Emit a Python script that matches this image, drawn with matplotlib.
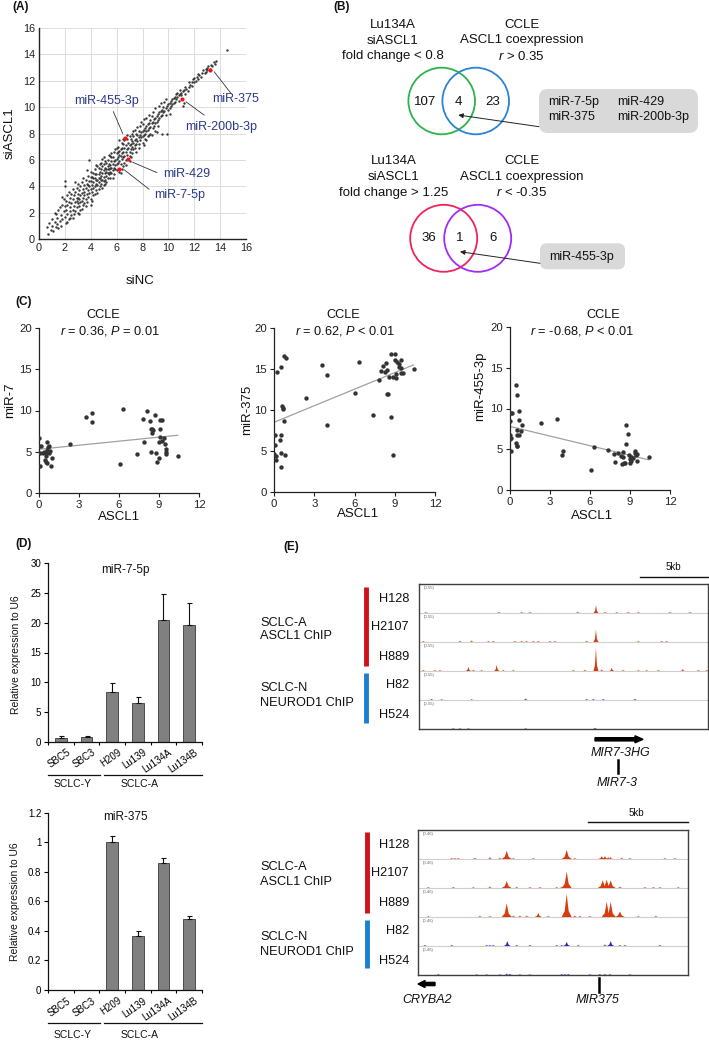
import matplotlib
matplotlib.use('Agg')
import matplotlib.pyplot as plt
from matplotlib.patches import Circle, FancyBboxPatch, FancyArrow

plt.rcParams['font.family'] = ['Liberation Sans', 'DejaVu Sans']
plt.rcParams['mathtext.fontset'] = 'custom'
plt.rcParams['mathtext.rm'] = 'Liberation Sans'
plt.rcParams['mathtext.it'] = 'Liberation Sans:italic'

# ---------------- DATA ----------------
# (A) miRNA expression, siNC vs siASCL1 (log2)
a_points = [
 (0.6,0.9),(0.7,0.4),(0.8,1.2),(0.9,0.7),(1.0,1.5),(1.0,1.0),(1.1,0.6),(1.2,1.3),(1.2,2.0),(1.3,0.9),(1.4,1.6),(1.4,1.1),(1.5,2.2),(1.5,0.8),(1.3,1.9),
 (1.6,1.4),(1.6,2.4),(1.7,1.8),(1.7,1.0),(1.8,2.6),(1.8,1.5),(1.9,2.1),(1.9,3.0),(2.0,1.7),(2.0,2.5),(2.0,4.4),(2.0,4.0),(2.1,1.2),(2.1,2.9),(2.1,2.2),
 (2.2,1.9),(2.2,3.3),(2.2,2.6),(2.3,1.5),(2.3,2.8),(2.3,3.6),(2.4,2.1),(2.4,2.4),(2.4,3.1),(2.5,1.8),(2.5,2.7),(2.5,3.4),(1.8,3.2),(2.2,1.3),(2.4,1.6),
 (2.6,2.2),(2.6,3.0),(2.6,3.8),(2.7,2.5),(2.7,1.9),(2.7,3.3),(2.8,2.8),(2.8,3.6),(2.8,2.1),(2.9,3.1),(2.9,2.4),(2.9,3.9),(3.0,2.7),(3.0,3.4),(3.0,2.0),
 (3.0,4.2),(3.1,3.0),(3.1,2.5),(3.1,3.7),(3.2,2.8),(3.2,3.3),(3.2,4.0),(3.2,2.2),(3.3,3.5),(3.3,2.9),(3.3,4.3),(3.4,3.1),(3.4,2.6),(3.4,3.8),(3.5,3.3),
 (3.5,4.1),(3.5,2.7),(2.6,1.6),(2.8,4.3),(3.1,1.9),(3.4,4.6),(3.0,3.1),(2.9,2.9),(3.3,2.3),(3.5,3.6),
 (3.6,3.0),(3.6,3.9),(3.6,4.5),(3.7,3.4),(3.7,2.8),(3.7,4.2),(3.8,3.7),(3.8,4.8),(3.8,3.2),(3.9,4.0),(3.9,3.5),(3.9,6.0),(4.0,4.4),(4.0,3.8),(4.0,3.0),
 (4.0,5.1),(4.1,4.1),(4.1,3.6),(4.1,4.7),(4.2,4.3),(4.2,3.9),(4.2,5.0),(4.2,3.3),(4.3,4.6),(4.3,4.0),(4.3,5.3),(4.4,4.2),(4.4,3.7),(4.4,4.9),(4.5,4.5),
 (4.5,4.1),(4.5,5.5),(4.5,3.5),(3.6,2.5),(3.8,4.1),(4.0,4.7),(4.1,2.9),(4.3,3.4),(4.4,5.6),(3.7,5.2),(3.9,4.4),(4.2,4.6),(4.0,2.6),(4.4,4.5),(4.3,4.9),
 (4.6,4.3),(4.6,4.9),(4.6,5.4),(4.6,3.8),(4.7,4.6),(4.7,5.1),(4.7,4.0),(4.8,4.8),(4.8,5.3),(4.8,4.2),(4.8,5.8),(4.9,5.0),(4.9,4.5),(4.9,5.5),(4.9,3.9),
 (5.0,5.2),(5.0,4.7),(5.0,5.7),(5.0,4.1),(5.0,6.2),(5.1,5.0),(5.1,5.4),(5.1,4.5),(5.2,5.3),(5.2,4.8),(5.2,5.8),(5.2,4.3),(5.3,5.5),(5.3,5.0),(5.3,6.0),
 (5.3,4.6),(5.4,5.3),(5.4,5.7),(5.4,4.9),(5.5,5.6),(5.5,5.1),(5.5,6.3),(5.5,4.6),(4.7,5.7),(4.9,6.1),(5.1,5.9),(5.4,6.4),(4.8,4.5),(5.0,4.4),(5.2,5.1),
 (5.3,5.3),(5.5,5.4),(5.1,4.2),(4.6,4.6),(5.4,5.0),
 (5.6,5.4),(5.6,5.9),(5.6,5.0),(5.6,6.5),(5.7,5.7),(5.7,5.2),(5.7,6.2),(5.8,5.9),(5.8,5.4),(5.8,6.6),(5.8,4.9),(5.9,6.0),(5.9,5.6),(5.9,6.8),(6.0,6.1),
 (6.0,5.7),(6.0,6.5),(6.0,5.2),(6.1,6.2),(6.1,5.8),(6.1,7.0),(6.2,6.4),(6.2,5.9),(6.2,5.1),(6.3,6.3),(6.3,6.8),(6.3,5.7),(6.4,6.5),(6.4,6.1),(6.4,7.3),
 (6.5,6.6),(6.5,6.2),(6.5,5.5),(6.5,7.2),(5.7,4.6),(6.0,6.9),(6.3,5.0),(6.4,5.3),(6.1,6.6),(5.9,5.3),(6.2,7.5),(5.6,6.2),(6.4,6.9),(6.2,6.7),(6.5,7.6),
 (6.6,6.3),(6.6,6.9),(6.6,7.5),(6.7,6.6),(6.7,6.0),(6.7,7.1),(6.8,6.8),(6.8,6.4),(6.8,7.6),(6.9,6.9),(6.9,7.3),(6.9,6.1),(7.0,7.1),(7.0,6.6),(7.0,7.8),
 (7.1,7.2),(7.1,6.8),(7.1,6.2),(7.2,7.4),(7.2,7.0),(7.2,8.0),(7.3,7.3),(7.3,6.8),(7.3,7.8),(7.4,7.5),(7.4,7.1),(7.4,8.3),(7.5,7.6),(7.5,7.2),(7.5,6.6),
 (6.7,5.6),(7.0,6.3),(7.2,6.5),(7.4,6.9),(6.8,7.9),(7.1,7.6),(7.3,8.2),(6.6,5.8),(7.0,5.9),(7.5,8.0),
 (7.6,7.4),(7.6,7.9),(7.6,8.5),(7.7,7.7),(7.7,7.2),(7.7,8.2),(7.8,7.9),(7.8,7.5),(7.8,8.6),(7.9,8.1),(7.9,7.7),(7.9,8.9),(8.0,8.2),(8.0,7.8),(8.0,8.7),
 (8.0,7.3),(8.1,8.3),(8.1,7.9),(8.1,9.1),(8.2,8.4),(8.2,8.0),(8.2,7.6),(8.3,8.6),(8.3,8.2),(8.3,9.2),(8.4,8.7),(8.4,8.3),(8.4,7.8),(8.5,8.8),(8.5,8.4),
 (8.5,9.4),(7.7,6.9),(8.1,7.1),(8.3,7.5),(8.5,7.9),
 (8.6,8.5),(8.6,9.0),(8.6,8.0),(8.7,8.8),(8.7,9.3),(8.7,7.9),(8.8,8.9),(8.8,8.4),(8.8,9.6),(8.9,9.1),(8.9,8.6),(9.0,9.2),(9.0,8.8),(9.0,9.9),(9.1,9.3),
 (9.1,8.9),(9.1,8.1),(9.2,9.5),(9.2,9.0),(9.3,9.6),(9.3,9.2),(9.3,10.1),(9.4,9.7),(9.4,9.3),(9.5,9.8),(9.5,9.4),(9.5,8.0),(9.0,8.2),(9.2,8.6),(9.4,10.3),
 (9.6,9.6),(9.6,10.0),(9.7,9.7),(9.7,10.4),(9.8,9.9),(9.8,9.4),(9.9,10.1),(9.9,8.0),(10.0,10.2),(10.0,9.8),(10.1,10.3),(10.1,9.9),(10.2,10.5),(10.2,10.1),
 (10.3,10.6),(10.3,10.2),(10.4,10.7),(10.4,10.3),(10.5,10.8),(10.5,10.4),(9.8,10.6),(10.1,9.5),
 (10.6,10.6),(10.6,11.0),(10.7,10.8),(10.7,11.1),(10.8,10.9),(10.8,10.5),(10.9,11.0),(10.9,11.3),(11.0,11.1),(11.0,10.9),(11.1,11.2),(11.2,10.3),
 (11.2,11.3),(11.3,11.0),(11.3,11.5),(11.4,11.4),(11.5,11.2),(11.1,10.1),
 (11.6,11.5),(11.6,11.9),(11.7,11.7),(11.8,11.9),(11.8,11.6),(11.9,12.1),(12.0,11.9),(12.0,12.2),(12.1,12.0),(12.2,12.3),(12.3,12.1),(12.3,12.5),
 (12.4,12.4),(12.5,12.3),
 (12.6,12.6),(12.7,12.8),(12.8,12.6),(12.9,12.9),(12.9,12.7),(13.0,13.0),(13.0,12.8),(13.1,13.1),(13.2,12.9),(13.3,13.2),(13.4,13.1),(13.5,13.4),
 (13.6,13.3),(13.7,13.5),(14.5,14.3),
]
hl_names = ['miR-455-3p', 'miR-200b-3p', 'miR-375', 'miR-429', 'miR-7-5p']
hl_sinc = [6.65, 11.06, 13.22, 6.88, 6.16]
hl_siascl1 = [7.66, 10.58, 12.85, 6.05, 5.34]

# (B) Venn counts
venn_up_counts = ['107', '4', '23']
venn_down_counts = ['36', '1', '6']
venn_up_mirs = ['miR-7-5p', 'miR-429', 'miR-375', 'miR-200b-3p']
venn_down_mirs = ['miR-455-3p']

# (C) CCLE correlations
c7_x = [0.02,0.0,0.15,0.07,0.27,0.07,0.52,0.57,0.7,0.77,0.82,0.62,0.52,0.47,0.55,0.62,0.87,0.95,0.77,0.37,
        2.35,3.55,3.95,3.95,6.05,6.3,7.35,7.8,7.9,8.1,8.35,8.4,8.45,8.5,8.55,8.4,8.7,8.75,8.85,9.0,
        9.0,9.05,9.05,9.05,9.2,9.2,9.35,9.45,9.5,9.5,9.55,10.4]
c7_y = [6.7,5.7,5.7,4.8,4.8,3.3,4.8,6.2,5.6,5.7,5.1,5.2,4.5,4.0,3.8,3.6,3.3,4.3,4.9,5.0,
        5.9,9.2,9.7,8.6,3.5,10.2,4.7,9.0,6.2,9.9,8.7,7.7,7.3,7.8,7.6,5.0,9.5,4.8,3.8,4.3,
        6.2,6.8,7.7,8.8,8.8,6.3,6.7,6.0,4.7,5.0,5.3,4.5]
c375_x = [0.0,0.05,0.05,0.15,0.15,0.2,0.5,0.45,0.5,0.55,0.55,0.6,0.65,0.7,0.75,0.75,0.85,0.9,2.35,3.6,
          3.95,3.95,6.05,6.35,7.35,7.8,7.95,8.1,8.3,8.35,8.4,8.45,8.5,8.55,8.7,8.75,8.85,8.9,9.0,9.05,
          9.1,9.1,9.2,9.3,9.35,9.45,9.5,9.5,9.6,10.4]
c375_y = [4.6,5.7,7.0,4.4,3.9,14.6,3.0,6.4,6.9,4.7,15.3,10.5,10.1,10.3,16.6,8.7,4.5,16.3,11.5,15.5,
          14.3,8.2,12.1,15.9,9.4,13.7,14.7,15.4,14.6,15.7,14.9,12.0,12.0,14.0,16.8,9.2,4.5,14.0,16.8,16.1,
          14.4,13.9,15.9,15.6,15.3,14.5,15.1,16.1,14.5,15.0]
c455_x = [0.0,0.0,0.0,0.05,0.1,0.1,0.15,0.45,0.5,0.45,0.5,0.5,0.55,0.55,0.65,0.7,0.7,0.85,0.9,2.35,
          3.55,3.9,3.95,6.05,6.3,7.35,7.8,7.9,8.1,8.35,8.4,8.45,8.5,8.55,8.65,8.7,8.7,8.85,8.95,9.0,
          9.0,9.05,9.1,9.2,9.35,9.4,9.45,9.5,9.5,10.4]
c455_y = [8.5,6.7,6.2,6.4,4.8,9.4,9.4,12.9,11.7,5.8,7.4,5.4,5.4,6.8,8.6,9.7,6.8,7.3,8.0,8.2,
          8.7,4.3,4.8,2.5,5.3,4.9,4.4,3.4,4.5,4.2,3.2,4.7,4.0,3.3,3.3,8.0,5.6,6.9,4.3,3.3,
          3.8,3.6,4.1,3.9,4.5,4.8,4.3,3.5,4.4,4.1]
fit_x = [0.0, 10.4]
fit7_y = [5.3, 7.0]
fit375_y = [8.5, 15.5]
fit455_y = [7.8, 3.7]
c_stats = [r'$\it{r}$ = 0.36, $\it{P}$ = 0.01', r'$\it{r}$ = 0.62, $\it{P}$ < 0.01', r'$\it{r}$ = -0.68, $\it{P}$ < 0.01']
c_ylabels = ['miR-7', 'miR-375', 'miR-455-3p']

# (D) qPCR
cell_lines = ['SBC5', 'SBC3', 'H209', 'Lu139', 'Lu134A', 'Lu134B']
mir7_vals = [0.55, 0.8, 8.3, 6.55, 20.4, 19.7]
mir7_err = [0.4, 0.2, 1.6, 0.9, 4.4, 3.7]
mir375_vals = [0.0, 0.0, 1.0, 0.365, 0.86, 0.48]
mir375_err = [0.0, 0.0, 0.04, 0.035, 0.035, 0.02]
mir7_yticks = [0, 5, 10, 15, 20, 25, 30]
mir375_yticks = [0, 0.2, 0.4, 0.6, 0.8, 1.0, 1.2]
mir375_yticklabels = ['0', '0.2', '0.4', '0.6', '0.8', '1', '1.2']

# (E) ChIP-seq tracks: peak positions (kb) and relative heights
track_names = ['H128', 'H2107', 'H889', 'H82', 'H524']
mir7_tracks = [
 ([0.51, 5.88, 7.55, 8.16, 11.67, 13.01, 13.68, 14.54, 15.39, 16.13, 18.46, 19.93],
  [0.04, 0.04, 0.04, 0.04, 0.05, 0.28, 0.04, 0.04, 0.04, 0.04, 0.04, 0.04]),
 ([0.32, 3.01, 3.87, 5.1, 5.47, 7.06, 7.55, 7.92, 8.41, 8.77, 9.63, 10.0, 12.33, 13.01, 16.13, 17.85, 18.21],
  [0.04, 0.05, 0.06, 0.04, 0.04, 0.04, 0.04, 0.04, 0.04, 0.04, 0.04, 0.04, 0.05, 0.45, 0.04, 0.04, 0.04]),
 ([0.32, 1.18, 1.54, 3.63, 4.0, 4.61, 5.71, 6.2, 6.94, 11.35, 12.2, 13.01, 13.43, 14.17, 15.02, 16.13, 16.74, 17.6, 19.39, 20.54, 21.15],
  [0.04, 0.04, 0.04, 0.15, 0.05, 0.04, 0.22, 0.04, 0.04, 0.04, 0.05, 0.85, 0.06, 0.12, 0.04, 0.04, 0.04, 0.04, 0.08, 0.04, 0.04]),
 ([0.93, 1.67, 3.87, 7.84, 12.33, 12.82, 13.55, 15.88],
  [0.04, 0.03, 0.03, 0.06, 0.04, 0.04, 0.04, 0.05]),
 ([2.52, 3.01, 3.63, 7.84, 12.94],
  [0.03, 0.03, 0.03, 0.03, 0.05]),
]
mir375_tracks = [
 ([1.67, 1.83, 2.0, 2.83, 3.58, 4.08, 4.42, 4.75, 5.75, 7.42, 7.83, 9.17, 9.33, 9.5, 9.62, 10.17, 10.58, 12.33, 12.83],
  [0.04, 0.04, 0.04, 0.05, 0.08, 0.05, 0.30, 0.04, 0.04, 0.33, 0.04, 0.10, 0.10, 0.08, 0.08, 0.05, 0.04, 0.04, 0.04]),
 ([0.5, 1.75, 2.75, 3.58, 4.42, 4.92, 5.58, 6.08, 6.92, 7.17, 7.42, 9.22, 9.42, 9.62, 10.08, 11.33, 11.75, 12.08, 13.0],
  [0.04, 0.05, 0.04, 0.06, 0.25, 0.05, 0.04, 0.04, 0.04, 0.05, 0.60, 0.28, 0.30, 0.28, 0.06, 0.04, 0.04, 0.04, 0.04]),
 ([0.5, 3.08, 3.58, 4.42, 4.75, 5.08, 5.42, 6.0, 6.5, 7.42, 7.83, 8.08, 8.58, 9.42, 9.62, 10.08, 11.0, 11.88],
  [0.04, 0.05, 0.04, 0.50, 0.06, 0.06, 0.06, 0.15, 0.04, 0.85, 0.06, 0.05, 0.04, 0.55, 0.55, 0.20, 0.04, 0.05]),
 ([0.33, 1.67, 3.42, 3.58, 3.75, 4.45, 4.92, 5.58, 6.92, 7.17, 7.42, 8.0, 9.33, 9.62, 10.08, 10.33, 12.08],
  [0.04, 0.04, 0.04, 0.04, 0.04, 0.18, 0.04, 0.04, 0.04, 0.04, 0.15, 0.04, 0.06, 0.18, 0.04, 0.04, 0.04]),
 ([1.0, 2.92, 3.42, 4.08, 4.42, 4.58, 5.08, 5.58, 7.17, 7.33, 7.5, 8.58, 9.08, 9.33, 9.58, 10.58],
  [0.04, 0.03, 0.03, 0.03, 0.06, 0.05, 0.03, 0.03, 0.04, 0.04, 0.04, 0.03, 0.04, 0.04, 0.04, 0.03]),
]
mir7_span_kb = 21.25
mir375_span_kb = 13.5

# ---------------- FIGURE ----------------
W, H = 709, 1041
fig = plt.figure(figsize=(W / 100, H / 100), dpi=100)


def add_ax(l, t, r, b):
    return fig.add_axes([l / W, 1 - b / H, (r - l) / W, (b - t) / H])


# ---- (A) ----
axA = add_ax(39, 28, 246, 239)
ax_x = [p[0] for p in a_points]
ax_y = [p[1] for p in a_points]
axA.scatter(ax_x, ax_y, s=3.0, color='#3a3a3a', linewidths=0, zorder=3)
axA.scatter(hl_sinc, hl_siascl1, s=9, color='#ff1010', linewidths=0, zorder=4)
axA.set_xlim(0, 16)
axA.set_ylim(0, 16)
axA.set_xticks(range(0, 17, 2))
axA.set_yticks(range(0, 17, 2))
axA.grid(True, color='#dcdcdc', lw=0.7)
axA.set_axisbelow(True)
for s in ['top', 'right']:
    axA.spines[s].set_visible(False)
for s in ['left', 'bottom']:
    axA.spines[s].set_color('#222222')
    axA.spines[s].set_linewidth(1.0)
axA.tick_params(length=0, labelsize=7.8, pad=3, colors='#222222')
lab_col = '#2b3a8c'
annA = {
    'miR-455-3p': ((5.23, 10.5), (5.75, 9.65), (6.47, 8.0)),
    'miR-200b-3p': ((14.07, 8.51), (11.37, 10.4), (12.76, 9.4)),
    'miR-375': ((15.2, 10.6), (13.55, 12.67), (14.85, 11.03)),
    'miR-429': ((11.4, 4.9), (7.24, 5.82), (9.1, 5.04)),
    'miR-7-5p': ((10.9, 3.3), (6.6, 5.24), (8.5, 3.78)),
}
for name in hl_names:
    (tx, ty), (x0, y0), (x1, y1) = annA[name]
    axA.plot([x0, x1], [y0, y1], color='#333333', lw=0.6, zorder=5, clip_on=False)
    axA.text(tx, ty, name, color=lab_col, fontsize=9, ha='center', va='center', clip_on=False, zorder=6)

# ---- (C) ----
c_boxes = [(39, 328, 199, 493), (274, 328, 435, 492), (510, 327, 670, 490)]
c_data = [(c7_x, c7_y, fit7_y), (c375_x, c375_y, fit375_y), (c455_x, c455_y, fit455_y)]
for box, (xx, yy, fy) in zip(c_boxes, c_data):
    ax = add_ax(*box)
    ax.plot(fit_x, fy, color='#a0a0a0', lw=0.9, zorder=2)
    ax.scatter(xx, yy, s=10, color='#333333', linewidths=0, zorder=3)
    ax.set_xlim(0, 12)
    ax.set_ylim(0, 20)
    ax.set_xticks([0, 3, 6, 9, 12])
    ax.set_yticks([0, 5, 10, 15, 20])
    for s in ['top', 'right']:
        ax.spines[s].set_visible(False)
    for s in ['left', 'bottom']:
        ax.spines[s].set_color('#222222')
        ax.spines[s].set_linewidth(0.9)
    ax.tick_params(direction='out', length=3, width=0.8, labelsize=8.2, pad=2, colors='#222222')
    ax.patch.set_alpha(0)

# ---- (D) ----
def bar_panel(box, vals, errs, ylim, yticks, yticklabels):
    ax = add_ax(*box)
    xs = list(range(len(vals)))
    ax.bar(xs, vals, width=0.45, color='#808080', edgecolor='#3a3a3a', linewidth=0.6, zorder=2)
    ex = [x for x, e in zip(xs, errs) if e > 0]
    ev = [v for v, e in zip(vals, errs) if e > 0]
    ee = [e for e in errs if e > 0]
    ax.errorbar(ex, ev, yerr=[[0] * len(ee), ee], fmt='none', ecolor='#111111',
                elinewidth=0.8, capsize=1.8, capthick=0.8, zorder=3)
    ax.set_xlim(-0.5, len(vals) - 0.5)
    ax.set_ylim(*ylim)
    ax.set_yticks(yticks)
    ax.set_yticklabels(yticklabels)
    ax.set_xticks([x + 0.2 for x in xs])
    ax.set_xticklabels(cell_lines, rotation=35, ha='right', rotation_mode='anchor', fontsize=7)
    ax.set_xticks([x - 0.5 for x in range(len(vals) + 1)], minor=True)
    ax.tick_params(axis='x', which='major', length=0, pad=4)
    ax.tick_params(axis='x', which='minor', length=2.5, width=0.8, direction='out')
    ax.tick_params(axis='y', length=3, width=0.8, direction='out', labelsize=7, pad=2)
    for s in ['top', 'right']:
        ax.spines[s].set_visible(False)
    for s in ['left', 'bottom']:
        ax.spines[s].set_color('#111111')
        ax.spines[s].set_linewidth(0.9)
    return ax

bar_panel((48.3, 563.3, 201.7, 741.7), mir7_vals, mir7_err, (0, 30), mir7_yticks, [str(v) for v in mir7_yticks])
bar_panel((48.3, 812.7, 201.7, 990), mir375_vals, mir375_err, (0, 1.2), mir375_yticks, mir375_yticklabels)

# ---- (E) ----
def track_panel(box, span_kb, tracks, range_label, hw_px):
    l, t, r, b = box
    ax = add_ax(l, t, r, b)
    ax.set_xlim(0, span_kb)
    ax.set_ylim(0, 5)
    kb_px = span_kb / (r - l)
    for i, (pos, hts) in enumerate(tracks):
        base = 4 - i
        col = '#d63c0c' if i < 3 else '#3a1fbf'
        if i < 4:
            ax.axhline(base, color='#cfcfcf', lw=0.8, zorder=1)
        for c, h in zip(pos, hts):
            if h >= 0.2:
                hw = hw_px[0] * kb_px
            elif h >= 0.1:
                hw = hw_px[1] * kb_px
            else:
                hw = hw_px[2] * kb_px
            hh = h * 0.95
            xsP = [c - hw, c - hw * 0.4, c - hw * 0.15, c, c + hw * 0.15, c + hw * 0.4, c + hw]
            ysP = [base, base + hh * 0.25, base + hh * 0.7, base + hh, base + hh * 0.7, base + hh * 0.25, base]
            ax.fill(xsP, ysP, color=col, lw=0, zorder=2, alpha=0.85 if h < 0.1 else 1.0)
        ax.text(0.015, (base + 0.93) / 5, range_label, transform=ax.transAxes, fontsize=3,
                color='#666666', va='top', ha='left')
    ax.set_xticks([])
    ax.set_yticks([])
    for s in ax.spines.values():
        s.set_color('#404040')
        s.set_linewidth(1.0)
    return ax

track_panel((419, 584, 708, 729), mir7_span_kb, mir7_tracks, '(0-55)', (2.5, 2.5, 2.2))
track_panel((418.3, 830, 688.3, 975), mir375_span_kb, mir375_tracks, '(0-46)', (5.0, 3.5, 2.2))

# ---- overlay (pixel coordinates) ----
ov = fig.add_axes([0, 0, 1, 1])
ov.set_xlim(0, W)
ov.set_ylim(H, 0)
ov.axis('off')
ov.patch.set_alpha(0)


def T(x, y, s, **kw):
    kw.setdefault('ha', 'center')
    kw.setdefault('va', 'center')
    kw.setdefault('color', '#111111')
    ov.text(x, y, s, **kw)

# panel labels
for lab, (x, y) in {'(A)': (12, 7), '(B)': (333, 7), '(C)': (15, 302), '(D)': (15, 544), '(E)': (283, 547)}.items():
    T(x, y, lab, ha='left', fontsize=8.5, fontweight='bold')

# A axis labels
T(140, 281, 'siNC', fontsize=9.5)
T(10, 133, 'siASCL1', fontsize=9.5, rotation=90)

# B venns
vfs = 9.5
for (lines, cx, ys) in [
    (['Lu134A', 'siASCL1', 'fold change < 0.8'], 393, [25, 40.5, 56]),
    (['CCLE', 'ASCL1 coexpression', r'$\it{r}$ > 0.35'], 521.7, [25, 40.5, 56]),
    (['Lu134A', 'siASCL1', 'fold change > 1.25'], 394, [161, 177, 193]),
    (['CCLE', 'ASCL1 coexpression', r'$\it{r}$ < -0.35'], 521.7, [161, 177, 193]),
]:
    for s, y in zip(lines, ys):
        T(cx, y, s, fontsize=vfs)

ov.add_patch(Circle((441.7, 101), 33.3, fill=False, ec='#2eb24b', lw=1.3))
ov.add_patch(Circle((475.7, 101), 33.3, fill=False, ec='#2b83d6', lw=1.3))
ov.add_patch(Circle((443.7, 238.3), 33.5, fill=False, ec='#f0245a', lw=1.3))
ov.add_patch(Circle((477.7, 238.3), 33.5, fill=False, ec='#a22cf5', lw=1.3))
for s, x in zip(venn_up_counts, [425, 458.3, 492.3]):
    T(x, 101.7, s, fontsize=vfs)
for s, x in zip(venn_down_counts, [429, 460, 492.7]):
    T(x, 238.3, s, fontsize=vfs)

ov.add_patch(FancyBboxPatch((539, 89), 159, 44, boxstyle='round,pad=0,rounding_size=9',
                            fc='#d9d9d9', ec='none'))
for s, (x, y) in zip(venn_up_mirs, [(547.7, 102), (616.7, 102), (547.7, 117.3), (616.7, 117.3)]):
    T(x, y, s, ha='left', fontsize=9)
ov.annotate('', xy=(458.3, 115), xytext=(539, 126.7),
            arrowprops=dict(arrowstyle='-|>', lw=0.7, color='#222222', mutation_scale=7,
                            shrinkA=0, shrinkB=0))
ov.add_patch(FancyBboxPatch((540, 243.3), 85, 26, boxstyle='round,pad=0,rounding_size=7',
                            fc='#d9d9d9', ec='none'))
T(549, 256.7, venn_down_mirs[0], ha='left', fontsize=9)
ov.annotate('', xy=(460, 251.7), xytext=(540, 263.3),
            arrowprops=dict(arrowstyle='-|>', lw=0.7, color='#222222', mutation_scale=7,
                            shrinkA=0, shrinkB=0))

# C titles and labels
c_title_pos = [(103.3, 110), (343.3, 345), (603.3, 581.7)]
c_ylab_pos = [(10, 400), (246.7, 410), (480, 386.7)]
c_xlab_pos = [(119, 517), (357.7, 514.3), (591.7, 516)]
for (tx, rx), st, yl, (yx, yy), (xx, xy) in zip(c_title_pos, c_stats, c_ylabels, c_ylab_pos, c_xlab_pos):
    T(tx, 315, 'CCLE', fontsize=9.2)
    T(rx, 331, st, fontsize=9.2)
    T(yx, yy, yl, fontsize=9.5, rotation=90)
    T(xx, xy, 'ASCL1', fontsize=9.5)

# D titles, labels, groups
T(125, 570, 'miR-7-5p', fontsize=8.5)
T(125, 817, 'miR-375', fontsize=8.5)
T(16, 655, 'Relative expression to U6', fontsize=7.5, rotation=90)
T(15, 902, 'Relative expression to U6', fontsize=7.5, rotation=90)
for ly, ty in [(775, 784), (1023.3, 1035)]:
    ov.plot([48, 100], [ly, ly], color='#111111', lw=0.9)
    ov.plot([104, 202], [ly, ly], color='#111111', lw=0.9)
    T(73, ty, 'SCLC-Y', fontsize=7.5)
    T(140, ty, 'SCLC-A', fontsize=7.5)

# E labels
efs = 9.2
for ys, gy, rb, bb, xr in [
    ([598.5, 627.5, 656.5, 685.5, 714.5], (622.5, 636, 688, 702.5), (587, 666), (673, 723), 366),
    ([844.5, 873.5, 902.5, 931.5, 960.5], (866.7, 881.7, 936.7, 951.7), (832, 912.7), (920, 968), 366.7),
]:
    for name, y in zip(track_names, ys):
        T(409, y, name, ha='right', fontsize=efs)
    T(260, gy[0], 'SCLC-A', ha='left', fontsize=efs)
    T(260, gy[1], 'ASCL1 ChIP', ha='left', fontsize=efs)
    T(260, gy[2], 'SCLC-N', ha='left', fontsize=efs)
    T(260, gy[3], 'NEUROD1 ChIP', ha='left', fontsize=efs)
    ov.plot([xr, xr], list(rb), color='#d0101b', lw=3.5, solid_capstyle='butt')
    ov.plot([xr, xr], list(bb), color='#1a7fd0', lw=3.5, solid_capstyle='butt')

# scale bars
ov.plot([640, 708], [577, 577], color='#111111', lw=1.0)
T(673, 567, '5kb', fontsize=7)
ov.plot([588.3, 688.3], [822.3, 822.3], color='#111111', lw=1.0)
T(636.7, 813.3, '5kb', fontsize=7)

# gene annotations
ov.add_patch(FancyArrow(595, 739.3, 48, 0, width=3.2, head_width=7, head_length=8,
                        length_includes_head=True, color='black'))
T(620, 752.7, 'MIR7-3HG', fontsize=9, style='italic')
ov.plot([617.7, 617.7], [760, 772.7], color='black', lw=1.8)
T(616.7, 783, 'MIR7-3', fontsize=9, style='italic')

ov.add_patch(FancyArrow(435, 984, -17, 0, width=3.2, head_width=7, head_length=7,
                        length_includes_head=True, color='black'))
T(426.7, 1000, 'CRYBA2', fontsize=9, style='italic')
ov.plot([599, 599], [978, 991.7], color='black', lw=1.8)
T(597.7, 1000, 'MIR375', fontsize=9, style='italic')

fig.savefig('out.png', dpi=100)
